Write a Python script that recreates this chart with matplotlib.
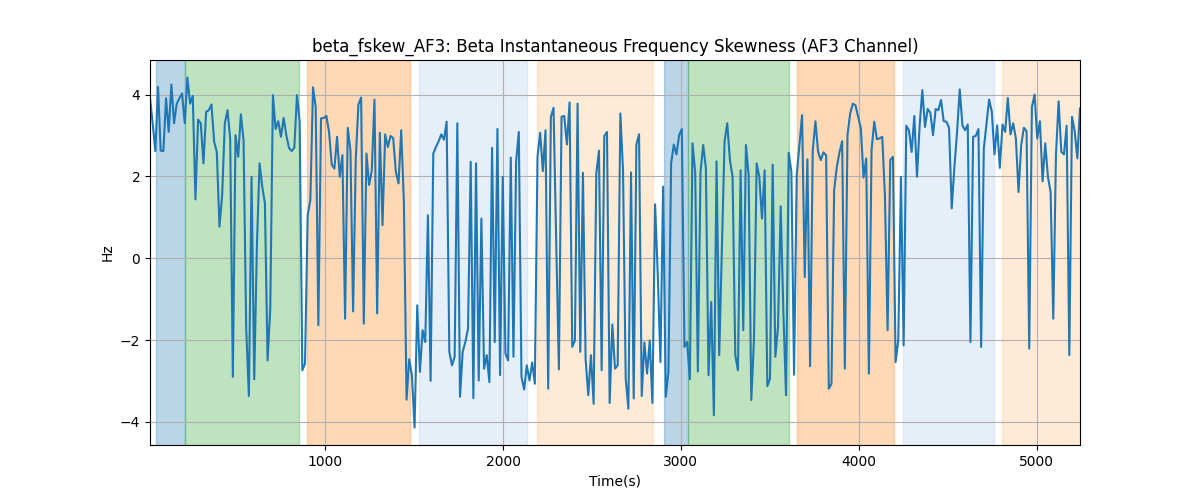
import numpy as np
import matplotlib
matplotlib.use("Agg")
import matplotlib.pyplot as plt

# values, left to right
skew_vals = [
    3.92, 3.30, 2.62, 4.19, 2.63, 2.62, 3.91, 3.09, 4.25, 3.30, 3.78, 3.91, 4.03, 3.30, 4.42, 3.78,
    3.97, 1.44, 3.39, 3.30, 2.32, 3.58, 3.62, 3.76, 2.85, 2.60, 0.77, 1.54, 3.30, 3.62, 2.93, -2.90,
    3.01, 2.48, 3.52, 2.89, -1.72, -3.37, 1.99, -2.96, 0.30, 2.32, 1.75, 1.34,
    -2.50, -1.23, 3.99, 3.16, 3.35, 2.97, 3.43, 3.01, 2.70, 2.62, 2.70, 3.99, 3.34, -2.74, -2.58, 1.05,
    1.42, 4.18, 3.70, -1.64, 3.42, 3.43, 3.48, 3.09, 2.29, 2.19, 2.97, 1.99, 2.52, -1.48, 3.19, 2.64,
    -1.30, 2.44, 3.76, 3.93, -1.60, 2.56, 1.79, 2.15, 3.88, -1.35, 3.07, 0.81,
    3.03, 2.72, 2.99, 2.94, 2.11, 1.83, 3.13, 1.38, -3.46, -2.47, -2.86, -4.14, -1.15, -2.78, -1.76, -2.05,
    1.05, -3.00, 2.56, 2.72, 2.86, 3.03, 2.90, 3.34, -2.29, -2.62, -2.41, 3.30, -3.39, -2.29, -2.05, -1.72,
    2.36, -3.42, 2.32, -2.99, 0.97, -2.70, -2.37, -3.03, 2.70, -2.05, 3.16,
    -2.86, 1.99, -2.33, -2.50, 2.46, -2.41, 2.36, 3.09, -2.90, -3.21, -2.62, -2.99, -2.55, -3.07, 2.48, 3.07,
    2.13, 3.13, -3.19, 3.46, 3.68, 0.40, -2.72, 3.46, 3.48, 2.78, 3.81, -2.17, -2.01, 3.78, -2.29, 2.09,
    -2.46, -3.35, -2.37, -3.56, 2.07, 2.63, -2.74, 2.99, 3.09, -3.54, -1.62, -2.70,
    -2.62, 3.54, 2.15, -2.94, -3.68, 2.10, -3.43, 2.78, 3.03, -3.37, -2.06, -2.82, -2.01, -3.54, 1.32, -0.40,
    -2.54, 1.75, -3.39, -2.78, 2.32, 2.78, 2.54, 3.01, 3.16, -2.17, -2.05, -2.96, 2.81, 2.11, -2.77, 2.11,
    2.77, 2.21, -2.86, -1.07, -3.84, 2.37, -2.37, 0.20, 2.86, 3.30, 2.40,
    1.99, -2.37, -2.74, 2.15, -1.76, 2.77, 2.03, -3.47, -2.00, 2.32, 1.99, 0.97, 2.15, -3.13, -2.94, 2.29,
    -2.41, -1.68, 1.27, -1.31, -3.35, 2.58, 2.11, -2.85, 2.03, 2.77, 3.50, -0.46, 2.42, -2.64, 2.64, 3.35,
    2.60, 2.40, 2.59, 2.52, -3.19, -3.07, 1.66, 2.23, 2.59, 2.86, -2.70,
    3.01, 3.54, 3.78, 3.74, 3.46, 3.17, 1.97, 2.44, -2.82, 2.64, 3.34, 2.91, 2.93, 2.97, 1.54, -1.76,
    2.40, 2.48, -2.54, -2.01, 1.99, -2.13, 3.24, 3.13, 2.60, 3.48, 1.99, 3.25, 4.11, 3.21, 3.65, 3.56,
    3.01, 3.65, 3.62, 3.87, 3.35, 3.34, 3.19, 1.22, 2.23, 3.09, 4.13,
    3.25, 3.13, 3.27, -2.05, 2.97, 2.99, 3.16, -2.17, 2.68, 3.27, 3.88, 3.58, 2.54, 3.25, 2.21, 3.27,
    3.09, 3.92, 3.03, 3.30, 2.93, 1.62, 2.77, 3.19, 3.11, -2.21, 3.70, 4.00, 2.93, 3.35, 1.88, 2.81,
    1.99, 1.62, -1.48, 2.52, 3.84, 2.60, 2.54, 3.24, -2.37, 3.46, 3.11, 2.44, 3.66,
]
t_start = 14
t_step = 15.03

# shaded segments (start, end, colour, alpha)
span_starts = [48, 210, 899, 1527, 2190, 2906, 3039, 3652, 4248, 4805]
span_ends = [210, 850, 1476, 2132, 2843, 3039, 3606, 4198, 4758, 5300]
span_colors = ["tab:blue", "tab:green", "tab:orange", "#aec7e8", "#ffbb78",
               "tab:blue", "tab:green", "tab:orange", "#aec7e8", "#ffbb78"]
span_alpha = 0.3

t = t_start + t_step * np.arange(len(skew_vals))

fig, ax = plt.subplots(figsize=(12, 5), dpi=100)
for s, e, c in zip(span_starts, span_ends, span_colors):
    ax.axvspan(s, e, color=c, alpha=span_alpha)
ax.plot(t, skew_vals, color="tab:blue")
ax.set_xlim(t[0], t[-1])
ax.set_title("beta_fskew_AF3: Beta Instantaneous Frequency Skewness (AF3 Channel)")
ax.set_xlabel("Time(s)")
ax.set_ylabel("Hz")
ax.grid(True)

fig.savefig("out.png")
